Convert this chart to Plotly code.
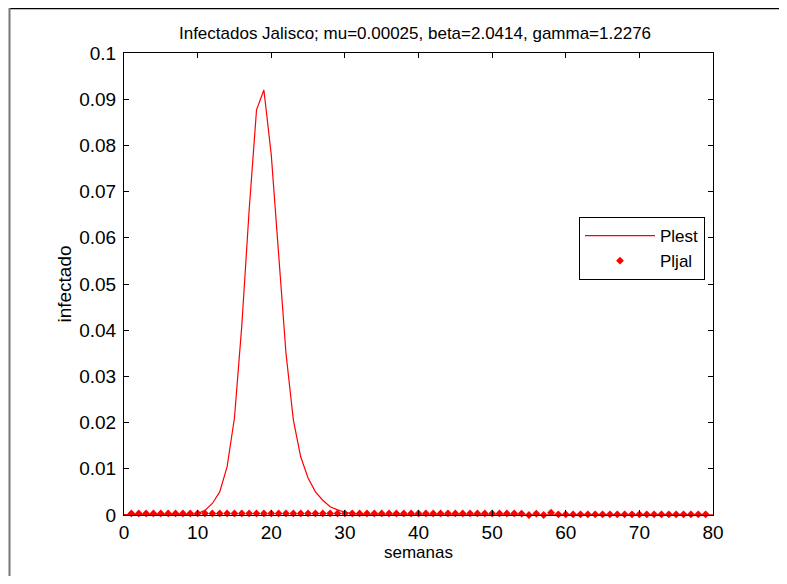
import plotly.graph_objects as go

# Plest: model curve (weeks 0..80)
weeks_est = list(range(0, 81))
plest_core = {10: 0.0003, 11: 0.001, 12: 0.0025, 13: 0.005, 14: 0.0104, 15: 0.021,
              16: 0.041, 17: 0.066, 18: 0.0877, 19: 0.092, 20: 0.078, 21: 0.057,
              22: 0.035, 23: 0.0206, 24: 0.0126, 25: 0.008, 26: 0.005, 27: 0.0032,
              28: 0.0018, 29: 0.0011, 30: 0.0006, 31: 0.0003, 32: 0.00015}
plest = [plest_core.get(w, 0.0001 if w < 10 else 0.00005) for w in weeks_est]

# Pljal: observed data (weeks 1..79), tiny values
weeks_obs = list(range(1, 80))
pljal = ([0.00035] * 53 + [0.0003, 0.0, 0.0003, 0.0, 0.0005, 0.00015]
         + [0.00015] * 20)

x_ticks = [0, 10, 20, 30, 40, 50, 60, 70, 80]
y_ticks = [0, 0.01, 0.02, 0.03, 0.04, 0.05, 0.06, 0.07, 0.08, 0.09, 0.1]
y_labels = ["0", "0.01", "0.02", "0.03", "0.04", "0.05", "0.06", "0.07", "0.08", "0.09", "0.1"]

FONT = "Liberation Sans, Arial, sans-serif"

# page body has an 8px margin; figure is sized to fit inside the 787x584 window
W, H = 771, 568
L, R, T, B = 116, 705, 45, 507  # plot area in figure pixels

fig = go.Figure()
fig.add_trace(go.Scatter(x=weeks_est, y=plest, mode="lines", name="Plest",
                         line=dict(color="#ff0000", width=1.2), cliponaxis=False))
fig.add_trace(go.Scatter(x=weeks_obs, y=pljal, mode="markers", name="Pljal",
                         marker=dict(color="#ff0000", symbol="diamond", size=6),
                         cliponaxis=False))

axis_common = dict(showgrid=False, zeroline=False, showline=True, linecolor="black",
                   linewidth=1, mirror="ticks", ticks="inside", ticklen=5,
                   tickcolor="black", automargin=False,
                   tickfont=dict(family=FONT, size=19, color="black"))

fig.update_xaxes(range=[0, 80], tickvals=x_ticks, **axis_common,
                 title=dict(text="semanas", font=dict(family=FONT, size=17, color="black"),
                            standoff=4))
fig.update_yaxes(range=[0, 0.1], tickvals=y_ticks, ticktext=y_labels, **axis_common,
                 ticklabelstandoff=3,
                 title=dict(text="infectado", font=dict(family=FONT, size=19, color="black"),
                            standoff=2))

fig.update_layout(
    width=W, height=H,
    paper_bgcolor="white", plot_bgcolor="white",
    margin=dict(l=L, r=W - R, t=T, b=H - B, autoexpand=False),
    title=dict(text="Infectados Jalisco; mu=0.00025, beta=2.0414, gamma=1.2276",
               x=407 / W, xanchor="center", y=1 - 25 / H, yanchor="middle",
               font=dict(family=FONT, size=17, color="black")),
    showlegend=True,
    legend=dict(x=(697 - L) / (R - L), xanchor="right", y=(B - 209) / (B - T), yanchor="top",
                bgcolor="white", bordercolor="black", borderwidth=1,
                itemwidth=70, tracegroupgap=0,
                font=dict(family=FONT, size=17, color="black")),
    shapes=[
        dict(type="line", xref="paper", yref="paper", x0=(1 - L) / (R - L), x1=(W - L) / (R - L),
             y0=(B - 0.5) / (B - T), y1=(B - 0.5) / (B - T), line=dict(color="black", width=1.5)),
        dict(type="line", xref="paper", yref="paper", x0=(1.5 - L) / (R - L), x1=(1.5 - L) / (R - L),
             y0=(B - 0) / (B - T), y1=(B - H) / (B - T), line=dict(color="#777777", width=2)),
    ],
)

fig.write_html("out.html")
